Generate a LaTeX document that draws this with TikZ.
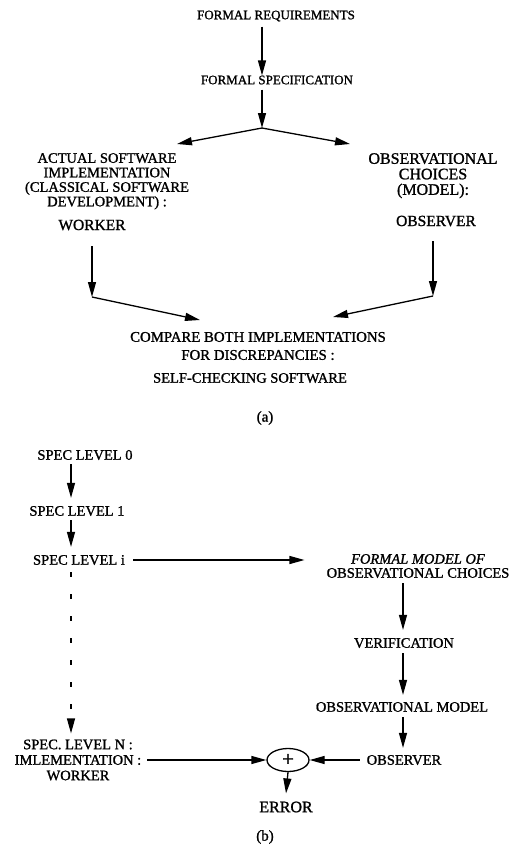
\documentclass[tikz,border=0pt]{standalone}
\usepackage{fontspec}
\setmainfont{Liberation Serif}[FakeBold=1.2, ItalicFeatures={FakeBold=1.2}]
\usetikzlibrary{arrows.meta,shapes.geometric}

\newcommand{\fs}[1]{\fontsize{#1}{#1}\selectfont}

\tikzset{
  lbl/.style={inner sep=0pt, align=center, font=\fs{14.5}},
  small/.style={lbl, font=\fs{13}},
  big/.style={lbl, font=\fs{16}},
  arr/.style={line width=1.3pt, -{Triangle[length=15pt,width=8pt]}},
  dash arr/.style={arr, dash pattern=on 5pt off 17pt},
  sum/.style={ellipse, draw, line width=1.3pt, minimum width=42pt, minimum height=23pt, inner sep=0pt, font=\fs{21}}
}

\begin{document}
\begin{tikzpicture}[x=1pt,y=-1pt]
\useasboundingbox (0,0) rectangle (511,854);

% ---------------- (a) ----------------
\node[small] (req)  at (276,16) {FORMAL REQUIREMENTS};
\node[small] (spec) at (277,80) {FORMAL SPECIFICATION};
\coordinate (split) at (262,128);
\coordinate (implin) at (177,144);
\coordinate (obsin) at (350,144);

\node[lbl, anchor=north, font={\fs{14.5}\baselineskip=14.5pt}] (impl) at (107,153)
  {ACTUAL SOFTWARE\\IMPLEMENTATION\\(CLASSICAL SOFTWARE\\DEVELOPMENT) :};
\node[big, anchor=north, font={\fs{16}\baselineskip=15.5pt}] (obsch) at (433,153)
  {OBSERVATIONAL\\CHOICES\\(MODEL):};
\node[lbl, font=\fs{15.5}] (worker) at (92,225) {WORKER};
\node[lbl, font=\fs{15.5}] (observer) at (436,221) {OBSERVER};

\coordinate (wk) at (92,297);
\coordinate (ob) at (433,296);

\node[lbl, font={\fs{14.8}\baselineskip=18pt}] (cmp) at (258,346)
  {COMPARE BOTH IMPLEMENTATIONS\\FOR DISCREPANCIES :};
\node[lbl] (self) at (250,378) {SELF-CHECKING SOFTWARE};
\coordinate (cmpl) at (200,320);
\coordinate (cmpr) at (333,317);

\node[lbl, font=\fs{15}] (capa) at (265,418) {(a)};

\draw[arr] (req.south -| split) ++(0,5) -- (spec.north -| split);
\draw[arr] (spec.south -| split) ++(0,5) -- (split);
\draw[arr] (split) -- (implin);
\draw[arr] (split) -- (obsin);
\draw[arr] (worker.south -| wk) ++(0,16) -- (wk);
\draw[arr] (observer.south -| ob) ++(0,15) -- (ob);
\draw[arr] (wk) -- (cmpl);
\draw[arr] (ob) -- (cmpr);

% ---------------- (b) ----------------
\node[lbl] (s0) at (85,455) {SPEC LEVEL 0};
\node[lbl] (s1) at (77,511) {SPEC LEVEL 1};
\node[lbl] (si) at (79,560) {SPEC LEVEL i};
\node[lbl, font={\fs{14.5}\baselineskip=15.5pt}] (sn) at (78,760)
  {SPEC. LEVEL N :\\IMLEMENTATION :\\WORKER};

\node[lbl, font={\fs{14.5}\baselineskip=14pt}] (fm) at (418,566)
  {\textit{FORMAL MODEL OF}\\OBSERVATIONAL CHOICES};
\node[lbl] (ver) at (404,643) {VERIFICATION};
\node[lbl] (om) at (402,707) {OBSERVATIONAL MODEL};
\node[lbl] (obs2) at (404,760) {OBSERVER};

\node[sum] (plus) at (288,760) {+};
\node[lbl, font=\fs{16}] (err) at (286,807) {ERROR};
\node[lbl, font=\fs{15}] (capb) at (265,837) {(b)};

\coordinate (col) at (71,0);
\coordinate (rcol) at (403,0);

\draw[arr] (s0.south -| col) ++(0,4) -- ([yshift=8pt]s1.north -| col);
\draw[arr] (s1.south -| col) ++(0,4) -- ([yshift=8pt]si.north -| col);
\draw[arr] (si.east) ++(8,0) coordinate (hstart) -- ([xshift=-22pt]fm.west |- si);
\draw[dash arr] (si.south -| col) ++(0,7) -- ([yshift=6pt]sn.north -| col);
\draw[arr] (fm.south -| rcol) ++(0,5) -- ([yshift=8pt]ver.north -| rcol);
\draw[arr] (ver.south -| rcol) ++(0,5) -- ([yshift=7pt]om.north -| rcol);
\draw[arr] (om.south -| rcol) ++(0,5) -- ([yshift=7pt]obs2.north -| rcol);
\draw[arr] ([xshift=6pt]sn.east |- plus) -- (plus.west);
\draw[arr] ([xshift=-7pt]obs2.west) -- (plus.east);
\draw[arr] (plus.south) -- ([yshift=8pt]err.north);
\end{tikzpicture}
\end{document}
